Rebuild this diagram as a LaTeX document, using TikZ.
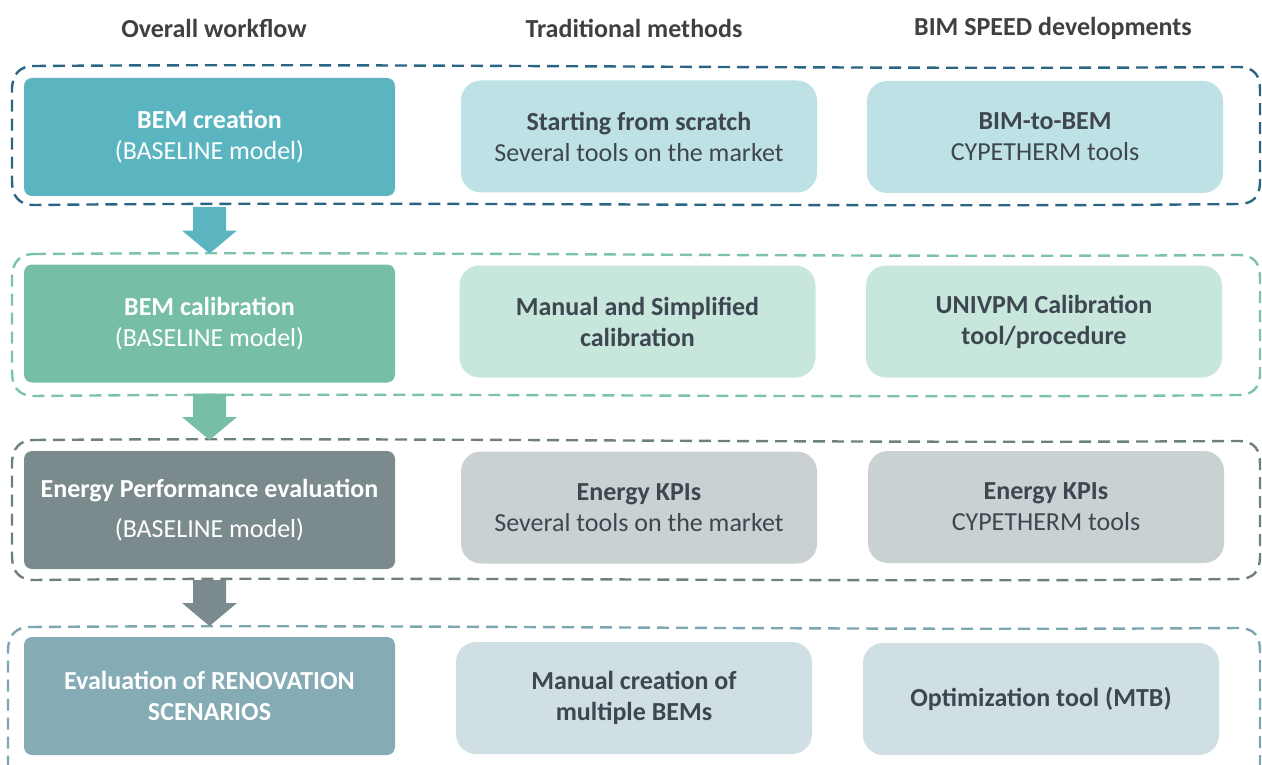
\documentclass[tikz,border=0pt]{standalone}
\usepackage{fontspec}
\setmainfont{Carlito}
\usetikzlibrary{calc}

% palette
\definecolor{hdr}{HTML}{404040}
\definecolor{ink}{HTML}{3E4650}
\definecolor{bandA}{HTML}{2B6584}
\definecolor{leadA}{HTML}{5BB5C0}
\definecolor{toolA}{HTML}{BDE1E5}
\definecolor{bandB}{HTML}{7DC3A8}
\definecolor{leadB}{HTML}{76BEA6}
\definecolor{toolB}{HTML}{C7E6DC}
\definecolor{bandC}{HTML}{6E7F82}
\definecolor{leadC}{HTML}{7B8B8D}
\definecolor{toolC}{HTML}{C9D1D3}
\definecolor{bandD}{HTML}{7EA6B0}
\definecolor{leadD}{HTML}{85ABB5}
\definecolor{toolD}{HTML}{D0DFE3}

\newcommand\fs{\fontsize{26}{31}\selectfont}

\tikzset{
  lead/.style={rounded corners=8, minimum width=371, minimum height=118,
    inner sep=0, outer sep=0, text=white, align=center, font=\fs},
  tool/.style={rounded corners=20, minimum width=356, minimum height=112,
    inner sep=0, outer sep=0, text=ink, align=center, font=\fs},
  colhead/.style={text=hdr, font=\fs\bfseries, inner sep=0},
  bandline/.style={dash pattern=on 12pt off 7pt, line width=2.4},
}

% hand-drawn looking dashed band: colour, top, bottom, left edge
\newcommand\wavyband[4]{%
  \draw[bandline, #1]
    (#4+22,#2) .. controls (420,#2-3) and (820,#2+4) .. (1238,#2+1)
    .. controls (1255,#2+1) and (1260,#2+10) .. (1260,#2+24)
    -- (1260,#3-24)
    .. controls (1260,#3-8) and (1253,#3-1) .. (1238,#3-1)
    .. controls (860,#3+3) and (420,#3-4) .. (#4+22,#3)
    .. controls (#4+6,#3) and (#4,#3-10) .. (#4,#3-24)
    -- (#4,#2+24)
    .. controls (#4,#2+8) and (#4+8,#2) .. cycle;}

% block arrow between two workflow boxes
\newcommand\blockarrow[3]{%
  \fill[#3]
    ($(#1.south)+(-16.5,11)$) -- ($(#1.south)+(16.5,11)$)
    -- ($(#2.north)+(16.5,-34)$) -- ($(#2.north)+(27.5,-34)$)
    -- ($(#2.north)+(0,-11)$)
    -- ($(#2.north)+(-27.5,-34)$) -- ($(#2.north)+(-16.5,-34)$) -- cycle;}

\begin{document}
\begin{tikzpicture}[x=1pt,y=-1pt]
\useasboundingbox (0,0) rectangle (1262,765);
\clip (0,0) rectangle (1262,765);

% column headings
\node[colhead] (h1) at (214,28) {Overall workflow};
\node[colhead] (h2) at (634,28) {Traditional methods};
\node[colhead] (h3) at (1053,28) {BIM SPEED developments};

% dashed bands
\wavyband{bandA}{66}{205}{12}
\wavyband{bandB}{254}{396}{12}
\wavyband{bandC}{440}{580}{12}
\wavyband{bandD}{627}{800}{8}

% row 1
\node[lead, fill=leadA] (w1) at (209.5,137) {\textbf{BEM creation}\\(BASELINE model)};
\node[tool, fill=toolA] (t1) at (639,136.5) {\textbf{Starting from scratch}\\Several tools on the market};
\node[tool, fill=toolA] (b1) at (1045,137) {\textbf{BIM-to-BEM}\\CYPETHERM tools};

% row 2
\node[lead, fill=leadB] (w2) at (209.5,323.5) {\textbf{BEM calibration}\\(BASELINE model)};
\node[tool, fill=toolB] (t2) at (637.5,321.5) {\textbf{Manual and Simplified}\\\textbf{calibration}};
\node[tool, fill=toolB] (b2) at (1044,321.5) {\textbf{UNIVPM Calibration}\\\textbf{tool/procedure}};

% row 3
\node[lead, fill=leadC] (w3) at (209.5,510) {\textbf{Energy Performance evaluation}\\[9pt](BASELINE model)};
\node[tool, fill=toolC] (t3) at (639,507.5) {\textbf{Energy KPIs}\\Several tools on the market};
\node[tool, fill=toolC] (b3) at (1046,507) {\textbf{Energy KPIs}\\CYPETHERM tools};

% row 4
\node[lead, fill=leadD] (w4) at (209.5,696) {\textbf{Evaluation of RENOVATION}\\\textbf{SCENARIOS}};
\node[tool, fill=toolD] (t4) at (634,698) {\textbf{Manual creation of}\\\textbf{multiple BEMs}};
\node[tool, fill=toolD] (b4) at (1041,699) {\textbf{Optimization tool (MTB)}};

% workflow arrows
\blockarrow{w1}{w2}{leadA}
\blockarrow{w2}{w3}{leadB}
\blockarrow{w3}{w4}{leadC}
\end{tikzpicture}
\end{document}
